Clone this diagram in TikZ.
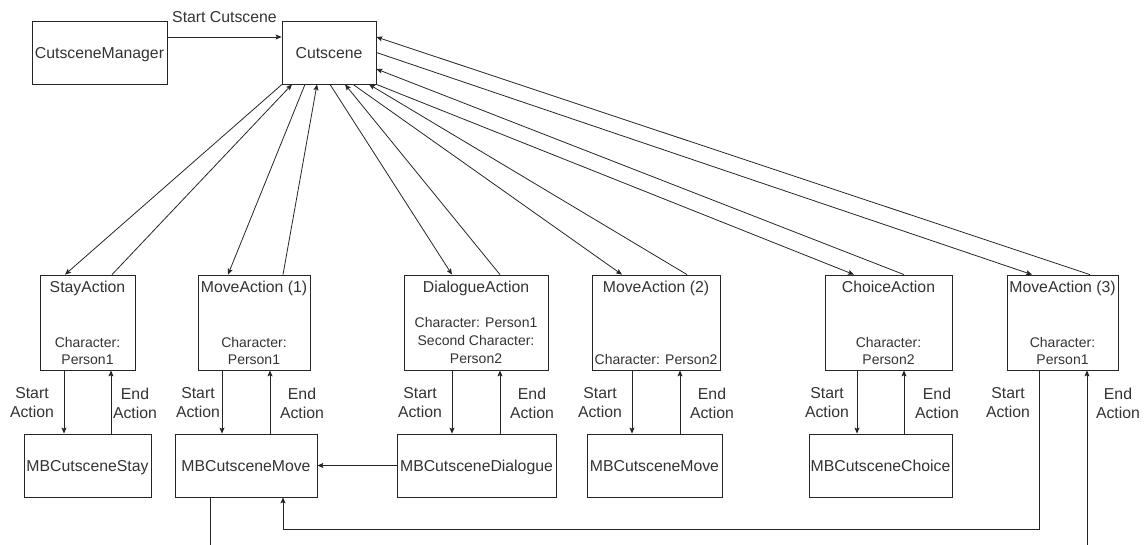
\documentclass[tikz,border=0pt]{standalone}
\usepackage{fontspec}
\setmainfont{Liberation Sans}
\usetikzlibrary{arrows.meta}
\begin{document}
\begin{tikzpicture}[x=1pt,y=-1pt,
  box/.style={draw=black!85, line width=0.8pt, inner sep=0pt, rectangle, text depth=0pt,
              font=\fontsize{15.8}{19}\selectfont, text=black!80},
  lbl/.style={font=\fontsize{15.8}{19}\selectfont, text=black!80, inner sep=0pt, align=center},
  small/.style={font=\fontsize{14}{17}\selectfont, text=black!80, inner sep=0pt, align=center},
  conn/.style={draw=black!85, line width=0.8pt},
  arr/.style={conn, -{Stealth[length=6pt,width=5pt,inset=1.2pt]}}]
\useasboundingbox (0,0) rectangle (1146,545);

% top boxes
\node[box, minimum width=135pt, minimum height=63pt] (mgr) at (99.5,52.5) {CutsceneManager};
\node[box, minimum width=94pt, minimum height=63pt] (cs) at (329,52.5) {Cutscene};

% action boxes
\node[box, minimum width=95pt,  minimum height=95pt] (stay) at (87.5,322.5) {};
\node[box, minimum width=112pt, minimum height=95pt] (mv1)  at (254,322.5) {};
\node[box, minimum width=144pt, minimum height=95pt] (dlg)  at (476,322.5) {};
\node[box, minimum width=128pt, minimum height=95pt] (mv2)  at (656,322.5) {};
\node[box, minimum width=127pt, minimum height=95pt] (cho)  at (888.5,322.5) {};
\node[box, minimum width=111pt, minimum height=95pt] (mv3)  at (1062.5,322.5) {};

% titles
\node[lbl, anchor=base] (t1) at (87.5,293) {StayAction};
\node[lbl, anchor=base] (t2) at (254,293) {MoveAction (1)};
\node[lbl, anchor=base] (t3) at (476,293) {DialogueAction};
\node[lbl, anchor=base] (t4) at (656,293) {MoveAction (2)};
\node[lbl, anchor=base] (t5) at (888.5,293) {ChoiceAction};
\node[lbl, anchor=base] (t6) at (1062.5,293) {MoveAction (3)};

% character texts
\node[small] (c1) at (87.5,350.5) {Character:\\Person1};
\node[small] (c2) at (254,350.5) {Character:\\Person1};
\node[small, font=\fontsize{14}{18}\selectfont] (c3) at (476,340) {Character: Person1\\Second Character:\\Person2};
\node[small, anchor=base] (c4) at (656,364) {Character: Person2};
\node[small] (c5) at (888.5,350.5) {Character:\\Person2};
\node[small] (c6) at (1062.5,350.5) {Character:\\Person1};

% MB boxes
\node[box, minimum width=127pt, minimum height=63pt] (mbstay) at (87.5,465.5) {MBCutsceneStay};
\node[box, minimum width=142pt, minimum height=63pt] (mbmv1)  at (246,465.5) {MBCutsceneMove};
\node[box, minimum width=159pt, minimum height=63pt] (mbdlg)  at (476.5,465.5) {MBCutsceneDialogue};
\node[box, minimum width=135pt, minimum height=63pt] (mbmv2)  at (654.5,465.5) {MBCutsceneMove};
\node[box, minimum width=143pt, minimum height=63pt] (mbcho)  at (880.5,465.5) {MBCutsceneChoice};

% start cutscene
\draw[arr] ([yshift=15.5pt]mgr.east) -- node[lbl, midway, above=14pt] {Start Cutscene} ([yshift=15.5pt]cs.west);

% cutscene <-> actions
\draw[arr] ([xshift=-47pt]cs.south) -- ([xshift=-22.5pt]stay.north);
\draw[arr] ([xshift=24.5pt]stay.north) -- ([xshift=-37pt]cs.south);
\draw[arr] ([xshift=-24pt]cs.south) -- ([xshift=-26pt]mv1.north);
\draw[arr] ([xshift=29pt]mv1.north) -- ([xshift=-12pt]cs.south);
\draw[arr] ([xshift=1pt]cs.south) -- ([xshift=-24pt]dlg.north);
\draw[arr] ([xshift=24pt]dlg.north) -- ([xshift=16pt]cs.south);
\draw[arr] ([xshift=24pt]cs.south) -- ([xshift=-34pt]mv2.north);
\draw[arr] ([xshift=31pt]mv2.north) -- ([xshift=40pt]cs.south);
\draw[arr] (cs.south east) -- ([xshift=-34.5pt]cho.north);
\draw[arr] ([xshift=15.5pt]cho.north) -- ([yshift=-16.5pt]cs.east);
\draw[arr] (cs.east) -- ([xshift=-30.5pt]mv3.north);
\draw[arr] ([xshift=27.5pt]mv3.north) -- ([yshift=15.5pt]cs.east);

% start / end actions
\draw[arr] ([xshift=-23.5pt]stay.south) -- ([xshift=-23.5pt]mbstay.north);
\draw[arr] ([xshift=23.5pt]mbstay.north) -- ([xshift=23.5pt]stay.south);
\draw[arr] ([xshift=-32pt]mv1.south) -- ([xshift=-24pt]mbmv1.north);
\draw[arr] ([xshift=24pt]mbmv1.north) -- ([xshift=16pt]mv1.south);
\draw[arr] ([xshift=-24pt]dlg.south) -- ([xshift=-24.5pt]mbdlg.north);
\draw[arr] ([xshift=23.5pt]mbdlg.north) -- ([xshift=24pt]dlg.south);
\draw[arr] ([xshift=-24pt]mv2.south) -- ([xshift=-22.5pt]mbmv2.north);
\draw[arr] ([xshift=25.5pt]mbmv2.north) -- ([xshift=24pt]mv2.south);
\draw[arr] ([xshift=-31.5pt]cho.south) -- ([xshift=-23.5pt]mbcho.north);
\draw[arr] ([xshift=23.5pt]mbcho.north) -- ([xshift=15.5pt]cho.south);

% labels
\node[lbl] (s1) at (32,403) {Start\\Action};
\node[lbl] (e1) at (135,403) {End\\Action};
\node[lbl] (s2) at (198,403) {Start\\Action};
\node[lbl] (e2) at (302,403) {End\\Action};
\node[lbl] (s3) at (420,403) {Start\\Action};
\node[lbl] (e3) at (532,403) {End\\Action};
\node[lbl] (s4) at (600,403) {Start\\Action};
\node[lbl] (e4) at (712,403) {End\\Action};
\node[lbl] (s5) at (827,403) {Start\\Action};
\node[lbl] (e5) at (937,403) {End\\Action};
\node[lbl] (s6) at (1008,403) {Start\\Action};
\node[lbl] (e6) at (1118,403) {End\\Action};

% dialogue -> move
\draw[arr] (mbdlg.west) -- (mbmv1.east);

% move3 routing
\draw[arr] ([xshift=-23.5pt]mv3.south) -- ++(0,159) -| ([xshift=37pt]mbmv1.south);
\coordinate (endin) at (1087,545);
\draw[arr] (endin) -- ([xshift=24.5pt]mv3.south);
\coordinate (mvout) at (210,545);
\draw[conn] ([xshift=-36pt]mbmv1.south) -- (mvout);
\end{tikzpicture}
\end{document}
